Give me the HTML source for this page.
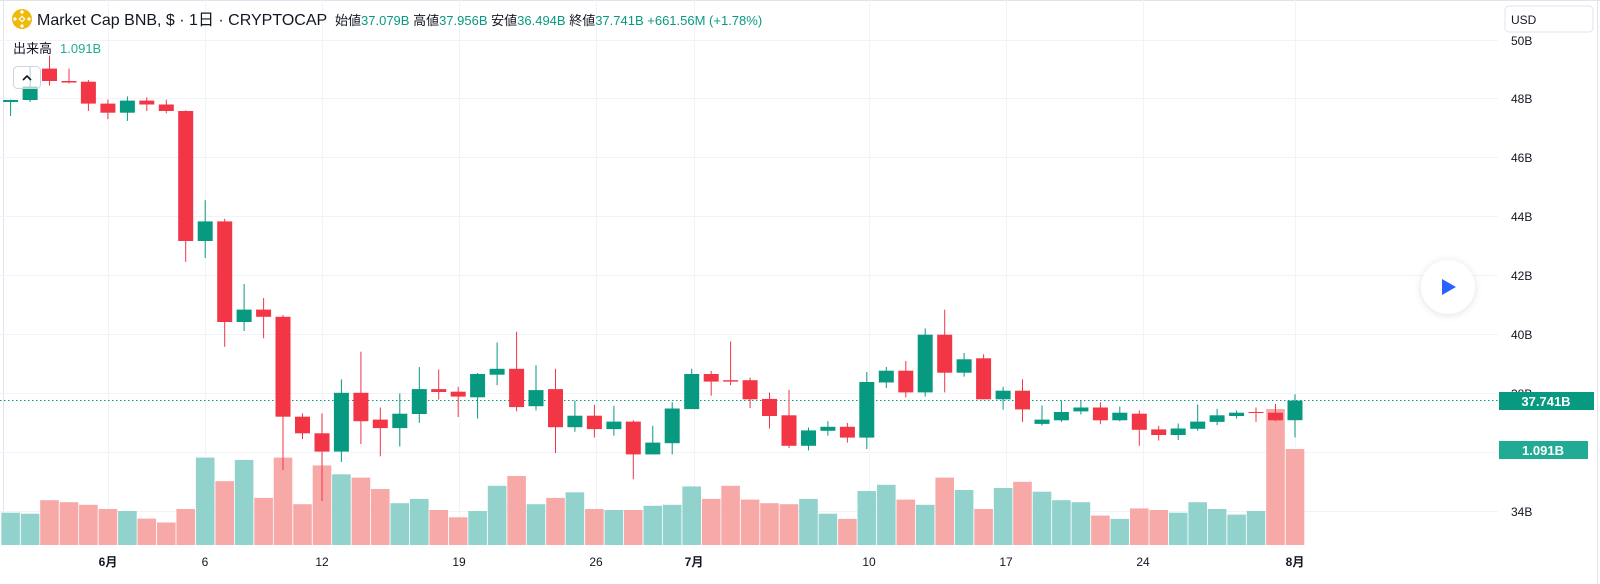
<!DOCTYPE html>
<html><head><meta charset="utf-8">
<style>
html,body{margin:0;padding:0;background:#fff;}
body{width:1600px;height:584px;overflow:hidden;position:relative;font-family:"Liberation Sans","Noto Sans CJK JP",sans-serif;color:#131722;}
svg{position:absolute;left:0;top:0;}
</style></head><body>
<svg id="c" width="1600" height="584" viewBox="0 0 1600 584" xmlns="http://www.w3.org/2000/svg">
<defs>
<filter id="sh" x="-50%" y="-50%" width="200%" height="200%"><feDropShadow dx="0" dy="1" stdDeviation="4" flood-color="#000" flood-opacity="0.12"/></filter>
</defs>
<rect x="0" y="0" width="1600" height="584" fill="#fff"/>
<line x1="3.5" y1="0" x2="3.5" y2="545" stroke="#e0e3eb"/>
<line x1="1597.5" y1="0" x2="1597.5" y2="584" stroke="#e0e3eb"/>
<line x1="0" y1="0.5" x2="1600" y2="0.5" stroke="#e0e3eb"/>
<g id="grid" stroke="#f0f3fa" stroke-width="1">
<line x1="0" y1="40.5" x2="1498" y2="40.5"/>
<line x1="0" y1="98.5" x2="1498" y2="98.5"/>
<line x1="0" y1="157.5" x2="1498" y2="157.5"/>
<line x1="0" y1="216.5" x2="1498" y2="216.5"/>
<line x1="0" y1="275.5" x2="1498" y2="275.5"/>
<line x1="0" y1="334.5" x2="1498" y2="334.5"/>
<line x1="0" y1="393.5" x2="1498" y2="393.5"/>
<line x1="0" y1="452.5" x2="1498" y2="452.5"/>
<line x1="0" y1="511.5" x2="1498" y2="511.5"/>
<line x1="108.5" y1="0" x2="108.5" y2="545"/>
<line x1="205.5" y1="0" x2="205.5" y2="545"/>
<line x1="322.5" y1="0" x2="322.5" y2="545"/>
<line x1="459.5" y1="0" x2="459.5" y2="545"/>
<line x1="596.5" y1="0" x2="596.5" y2="545"/>
<line x1="694.5" y1="0" x2="694.5" y2="545"/>
<line x1="869.5" y1="0" x2="869.5" y2="545"/>
<line x1="1006.5" y1="0" x2="1006.5" y2="545"/>
<line x1="1143.5" y1="0" x2="1143.5" y2="545"/>
<line x1="1295.5" y1="0" x2="1295.5" y2="545"/>
</g>
<g id="vol"></g>
<line x1="0" y1="400.5" x2="1498" y2="400.5" stroke="#089981" stroke-dasharray="1.5,2.5" stroke-width="1"/>
<g id="cnd"></g>
<!-- axis labels -->
<g font-size="12" fill="#131722">
<text x="1511" y="45">50B</text>
<text x="1511" y="103">48B</text>
<text x="1511" y="162">46B</text>
<text x="1511" y="221">44B</text>
<text x="1511" y="280">42B</text>
<text x="1511" y="339">40B</text>
<text x="1511" y="398">38B</text>
<text x="1511" y="516">34B</text>
</g>
<rect x="1505" y="6" width="88" height="26" rx="4" fill="#fff" stroke="#e0e3eb"/>
<text x="1511" y="24" font-size="12" fill="#131722">USD</text>
<rect x="1499" y="392" width="95" height="18" fill="#089981"/>
<text x="1546" y="406" font-size="13" fill="#fff" text-anchor="middle" font-weight="bold">37.741B</text>
<rect x="1499" y="441" width="89" height="18" fill="#22ab94"/>
<text x="1543" y="455" font-size="13" fill="#fff" text-anchor="middle" font-weight="bold">1.091B</text>
<!-- time labels -->
<g font-size="12" fill="#131722" text-anchor="middle">
<text x="108" y="566" font-weight="bold">6月</text>
<text x="205" y="566">6</text>
<text x="322" y="566">12</text>
<text x="459" y="566">19</text>
<text x="596" y="566">26</text>
<text x="694" y="566" font-weight="bold">7月</text>
<text x="869" y="566">10</text>
<text x="1006" y="566">17</text>
<text x="1143" y="566">24</text>
<text x="1295" y="566" font-weight="bold">8月</text>
</g>
<!-- play button -->
<circle cx="1448" cy="287" r="27" fill="#fff" filter="url(#sh)"/>
<polygon points="1442,279 1442,295 1456,287" fill="#2962ff"/>
<!-- header -->
<circle cx="22" cy="19" r="10" fill="#f0b90b"/>
<g fill="#fff"><rect x="19.5" y="16.5" width="5" height="5" transform="rotate(45 22 19)"/><rect x="20.5" y="10.5" width="3" height="3" transform="rotate(45 22 12)"/><rect x="20.5" y="24.5" width="3" height="3" transform="rotate(45 22 26)"/><rect x="13.5" y="17.5" width="3" height="3" transform="rotate(45 15 19)"/><rect x="27.5" y="17.5" width="3" height="3" transform="rotate(45 29 19)"/></g>
<circle cx="22" cy="19" r="1.5" fill="#f0b90b"/>
<text x="37" y="25" font-size="16" fill="#131722">Market Cap BNB, $ · 1日 · CRYPTOCAP</text>
<g font-size="13">
<text x="335" y="25"><tspan fill="#131722">始値</tspan><tspan fill="#089981">37.079B</tspan><tspan fill="#131722"> 高値</tspan><tspan fill="#089981">37.956B</tspan><tspan fill="#131722"> 安値</tspan><tspan fill="#089981">36.494B</tspan><tspan fill="#131722"> 終値</tspan><tspan fill="#089981">37.741B +661.56M (+1.78%)</tspan></text>
<text x="13" y="53"><tspan fill="#131722">出来高</tspan><tspan fill="#22ab94" dx="8">1.091B</tspan></text>
</g>
<rect x="13.5" y="66.5" width="27" height="22" rx="4" fill="rgba(255,255,255,0.6)" stroke="#d1d4dc"/>
<path d="M23 80 L27 76 L31 80" stroke="#131722" stroke-width="1.6" fill="none"/>
</svg>
<script>
var C=[[102,100,99.6,116],[100,86.6,67,102],[68.6,81,55.6,85.6],[81,82.5,68.6,83.3],[81.7,103.6,80,111],[103.6,112.7,99.6,119.2],[112.7,100.6,96.4,120.9],[100.6,104.5,97.3,111],[104.5,111,99.6,113.3],[111,241,110.4,261.9],
[241,221.4,200.2,258],[221.4,322,218.8,346.8],[322,309.6,284,331],[309.6,316.8,298,338.3],[316.8,416.7,315,470],[416.7,433.3,413.4,439.2],[433.3,451.6,413.4,501],[451.6,392.8,379.4,462],[392.8,421.2,351.7,444],[419.6,428.1,407.5,456.3],
[428.1,413.7,393.4,446.5],[414,389.1,367.1,422.9],[389.1,392,369.4,399.6],[391.7,396.6,386.8,417],[397.3,374,373,418.6],[374.7,368.8,342.5,385.2],[368.8,407.1,331.7,411.4],[406.2,390.1,365.2,410.4],[389.1,427.2,368.8,453],[427.2,415.7,400.6,431.7],
[415.7,429.1,404.8,437.6],[429.1,421.6,405.8,435.7],[421.6,454.4,420.3,479.3],[454.4,442.6,425.8,454.4],[443.2,408.5,402.2,454.4],[409.1,374,368.8,409.1],[374,381.6,371,395.7],[380.2,381.6,341.5,385.2],[380.2,399.3,377.6,408.1],[398.9,416,392.4,428.5],
[415.3,445.8,389.8,448.1],[445.8,430.4,427.5,450.4],[430.8,426.8,421.2,435.7],[426.8,437.6,423,442.6],[437.6,382,372,449],[382.5,370.7,367,388],[370.7,392.4,361,397.3],[392.4,334.7,328.4,396.6],[334.7,372.7,309.7,392.4],[372.7,359.3,353,376.6],
[358.3,399.3,354.3,399.3],[399.3,390.7,386.8,409.8],[390.7,409.4,379.3,421.9],[423.9,419.6,405.5,425.5],[420.3,412,400.6,421.9],[411.4,407.5,400.6,414.4],[407.5,420.3,402.2,424.2],[420.3,412.7,406.5,421.2],[413.7,429.8,410.4,445.8],[429.4,435,425.8,440.6],
[435,428.5,423.5,440],[428.8,421.6,404.5,430.8],[421.9,415.3,408.8,425.2],[416,412.7,410.4,418.6],[412,413,407.5,421.9],[412.7,420.3,403.9,421.2],[420.2,400.6,394.3,437.4]];
var V=[512.7,513.7,500.2,502.2,504.8,509,511,518.6,522.5,509,457.6,481.2,459.9,497.9,457.6,504.2,465.4,474.3,477.6,489,503.2,498.9,510,517.3,511,485.8,476,504.2,497.9,492.3,509,510,510,505.8,504.8,486.4,498.9,485.8,499.6,503.2,504.2,498.9,513.7,518.9,491,484.8,499.6,504.8,477.6,490,509,488,481.8,491.7,500.2,502.2,515.6,518.9,508.4,510,512.7,502.2,509,514.6,511,409,449];
var VC="ggrrrrgrrrgrgrrrrgrrggrrggrgrgrgrggg rrrrrggrggrgrgrgrgggrgrrgggggrrg".replace(/ /g,'');
var ns="http://www.w3.org/2000/svg",cg=document.getElementById('cnd'),vg=document.getElementById('vol');
function el(p,t,a){var e=document.createElementNS(ns,t);for(var k in a)e.setAttribute(k,a[k]);p.appendChild(e);}
for(var i=0;i<C.length;i++){var x=10.6+i*19.46,d=C[i],up=d[1]<d[0],col=up?'#089981':'#f23645';
 // volume
 var vc=V[i];var vup=VC[i]=='g';
 el(vg,'rect',{x:(x-9.3).toFixed(1),y:vc,width:18.6,height:(545-vc).toFixed(1),fill:vup?'#92d2cc':'#f7a9a7'});
 el(cg,'rect',{x:(x-0.5).toFixed(1),y:d[2],width:1,height:(d[3]-d[2]).toFixed(1),fill:col});
 var t=Math.min(d[0],d[1]),h=Math.max(1,Math.abs(d[1]-d[0]));
 el(cg,'rect',{x:(x-7.5).toFixed(1),y:t,width:15,height:h.toFixed(1),fill:col});
}
</script>
</body></html>
